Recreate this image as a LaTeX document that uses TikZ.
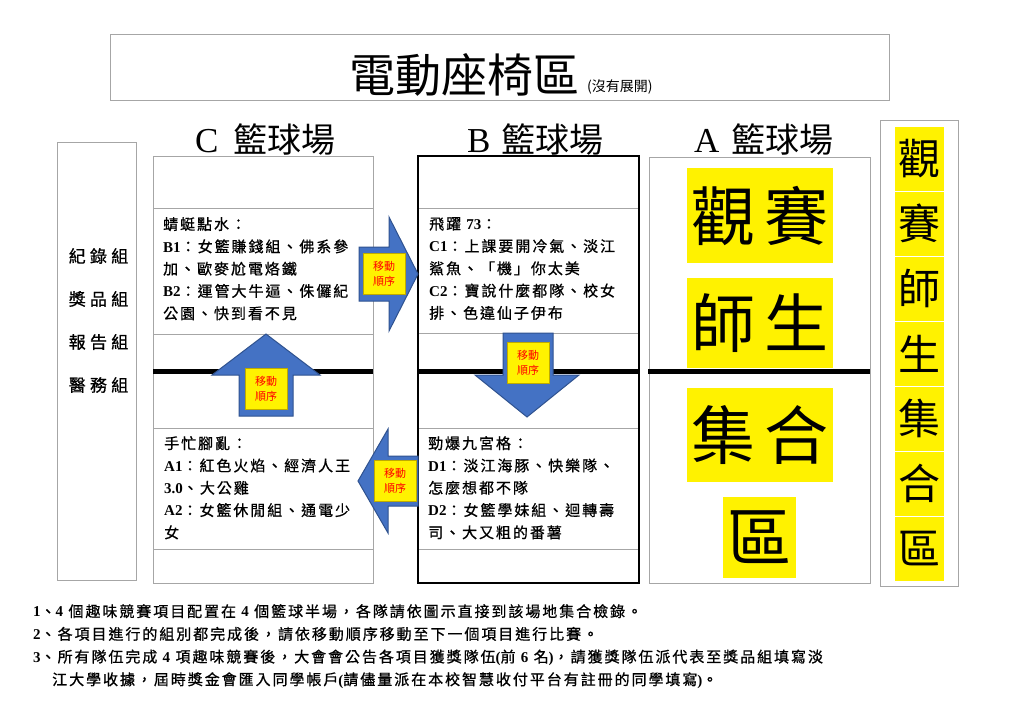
\documentclass[tikz,border=0pt]{standalone}
\usepackage{fontspec}
\setmainfont{Noto Sans CJK TC}
\newfontfamily\cjkls[LetterSpace=13, FakeBold=0.8]{Noto Sans CJK TC}
\newfontfamily\cjkwd[LetterSpace=25, FakeBold=0.8]{Noto Sans CJK TC}
\newfontfamily\latf{Liberation Serif}
\newcommand\latb[1]{{\latf\bfseries #1}}
\definecolor{arrowblue}{HTML}{4472C4}
\definecolor{arrowedge}{HTML}{2F528F}
\definecolor{boxgray}{HTML}{A6A6A6}
\definecolor{labeledge}{RGB}{190,170,0}
\begin{document}
\begin{tikzpicture}[x=1pt,y=-1pt,
  grayframe/.style={draw=boxgray, line width=1pt},
  blkframe/.style={draw=black, line width=1.5pt},
  thinline/.style={draw=boxgray, line width=0.8pt},
  thickline/.style={draw=black, line width=5pt},
  blockarrow/.style={fill=arrowblue, draw=arrowedge, line width=1pt, line join=miter},
  movelabel/.style={fill=yellow, draw=labeledge, line width=0.6pt, minimum width=42pt, minimum height=41pt, inner sep=0pt, align=center, text=red, font=\fontsize{11}{15}\selectfont},
  bodytext/.style={anchor=north west, inner sep=0pt, align=left, font=\cjkls\fontsize{15}{22.3}\selectfont},
  header/.style={anchor=base west, inner sep=0pt, font=\fontsize{34}{34}\selectfont},
  sidelabel/.style={inner sep=0pt, font=\cjkwd\fontsize{17}{17}\selectfont},
  bigchar/.style={fill=yellow, inner sep=0pt, font=\fontsize{64}{64}\selectfont},
  cellchar/.style={fill=yellow, minimum width=49pt, minimum height=64pt, inner sep=0pt, font=\fontsize{42}{42}\selectfont}
]
\fill[white] (0,0) rectangle (1024,724);
\useasboundingbox (0,0) rectangle (1024,724);

% title
\draw[grayframe] (110,34) rectangle (889,100);
\node[anchor=base west, inner sep=0pt, font=\fontsize{46}{46}\selectfont] (title) at (349,92) {電動座椅區};
\node[anchor=base west, inner sep=0pt, font=\fontsize{14}{14}\selectfont] (titlenote) at (587,91) {(沒有展開)};

% headers
\node[header] (hc) at (195,152) {{\latf\fontsize{35}{35}\selectfont C}\hspace{15pt}籃球場};
\node[header] (hb) at (467,152) {{\latf\fontsize{35}{35}\selectfont B}\hspace{11pt}籃球場};
\node[header] (ha) at (694,152) {{\latf\fontsize{35}{35}\selectfont A}\hspace{12pt}籃球場};

% left box
\draw[grayframe] (57,142) rectangle (136,580);
\node[sidelabel] (lb1) at (98.5,256) {紀錄組};
\node[sidelabel] (lb2) at (98.5,299) {獎品組};
\node[sidelabel] (lb3) at (98.5,342) {報告組};
\node[sidelabel] (lb4) at (98.5,385) {醫務組};

% C court
\draw[grayframe] (153,156) rectangle (373,583);
\foreach \yy in {208,334,428,549} \draw[thinline] (153,\yy) -- (373,\yy);
% B court
\foreach \yy in {208,333,428,549} \draw[thinline] (418,\yy) -- (639,\yy);
\draw[blkframe] (418,156) rectangle (639,583);
% A court
\draw[grayframe] (649,157) rectangle (870,583);

% center lines
\draw[thickline] (153,371.5) -- (373,371.5);
\draw[thickline] (418,371.5) -- (639,371.5);
\draw[thickline] (648,371.5) -- (870,371.5);

% A court big text
\node[bigchar, minimum width=146pt, minimum height=95pt] (a1) at (760,215.5) {觀\hspace{10pt}賽};
\node[bigchar, minimum width=146pt, minimum height=90pt] (a2) at (760,323) {師\hspace{10pt}生};
\node[bigchar, minimum width=146pt, minimum height=94pt] (a3) at (760,435) {集\hspace{10pt}合};
\node[bigchar, minimum width=73pt, minimum height=81pt] (a4) at (759.5,537.5) {區};

% right box
\draw[grayframe] (880,120) rectangle (958,586);
\node[cellchar] (r1) at (919.5,158.5) {觀};
\node[cellchar] (r2) at (919.5,223.5) {賽};
\node[cellchar] (r3) at (919.5,288.5) {師};
\node[cellchar] (r4) at (919.5,353.5) {生};
\node[cellchar] (r5) at (919.5,418.5) {集};
\node[cellchar] (r6) at (919.5,483.5) {合};
\node[cellchar] (r7) at (919.5,548.5) {區};

% arrows
\draw[blockarrow] (359,247) -- (389,247) -- (389,217) -- (418,274) -- (389,331) -- (389,301) -- (359,301) -- cycle;
\node[movelabel] (m1) at (384,273.5) {移動\\順序};
\draw[blockarrow] (239,416) -- (239,375) -- (212,375) -- (266,334) -- (320,375) -- (293,375) -- (293,416) -- cycle;
\node[movelabel] (m2) at (266,388.5) {移動\\順序};
\draw[blockarrow] (503,333) -- (553,333) -- (553,375) -- (579,375) -- (527,417) -- (475,375) -- (503,375) -- cycle;
\node[movelabel] (m3) at (528,362.5) {移動\\順序};
\draw[blockarrow] (418,456) -- (388,456) -- (388,429) -- (358,481) -- (388,533) -- (388,506) -- (418,506) -- cycle;
\node[movelabel] (m4) at (395,481) {移動\\順序};

% court texts
\node[bodytext] (ctop) at (163,217) {蜻蜓點水：\\ \latb{B1}：女籃賺錢組、佛系參\\加、歐麥尬電烙鐵\\ \latb{B2}：運管大牛逼、侏儸紀\\公園、快到看不見};
\node[bodytext] (btop) at (429,217) {飛躍 \latb{73}：\\ \latb{C1}：上課要開冷氣、淡江\\鯊魚、「機」你太美\\ \latb{C2}：寶說什麼都隊、校女\\排、色違仙子伊布};
\node[bodytext] (cbot) at (164,436) {手忙腳亂：\\ \latb{A1}：紅色火焰、經濟人王\\ \latb{3.0}、大公雞\\ \latb{A2}：女籃休閒組、通電少\\女};
\node[bodytext] (bbot) at (428,436) {勁爆九宮格：\\ \latb{D1}：淡江海豚、快樂隊、\\怎麼想都不隊\\ \latb{D2}：女籃學妹組、迴轉壽\\司、大又粗的番薯};

% notes
\node[anchor=north west, inner sep=0pt, align=left, font=\cjkls\fontsize{15}{22.7}\selectfont] (notes) at (33,604) {\latb{1}、\latb{4} 個趣味競賽項目配置在 \latb{4} 個籃球半場，各隊請依圖示直接到該場地集合檢錄。\\
\latb{2}、各項目進行的組別都完成後，請依移動順序移動至下一個項目進行比賽。\\
\latb{3}、所有隊伍完成 \latb{4} 項趣味競賽後，大會會公告各項目獲獎隊伍\latb{(}前 \latb{6} 名\latb{)}，請獲獎隊伍派代表至獎品組填寫淡\\
\hspace*{19pt}江大學收據，屆時獎金會匯入同學帳戶\latb{(}請儘量派在本校智慧收付平台有註冊的同學填寫\latb{)}。};
\end{tikzpicture}
\end{document}
